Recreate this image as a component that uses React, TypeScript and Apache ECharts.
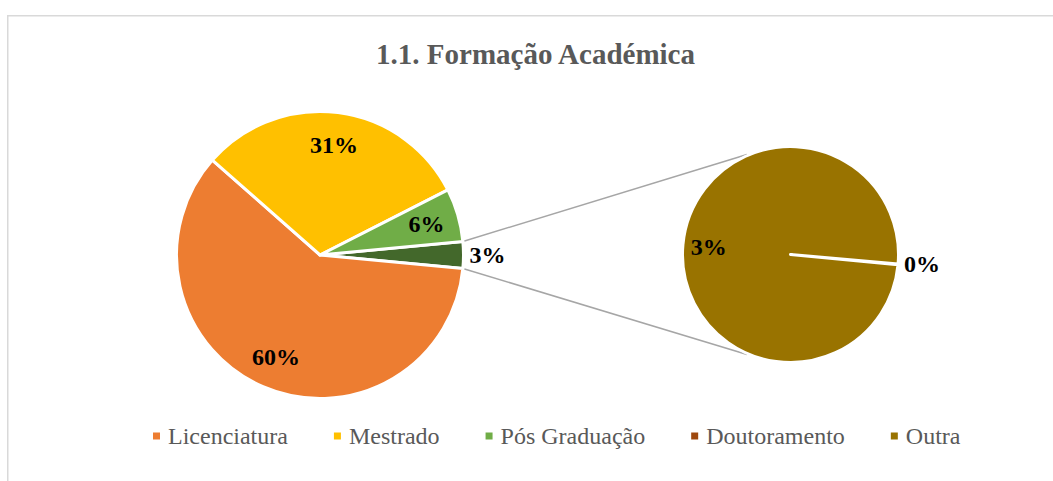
import { useEffect, useRef } from "react";
import * as echarts from "echarts";

// ---- data ----
const categories = ["Licenciatura", "Mestrado", "Pós Graduação", "Doutoramento", "Outra"];
const values = [60, 31, 6, 0, 3];
const colors = ["#ED7D31", "#FFC000", "#70AD47", "#9E480E", "#997300"];
const primaryIdx = [0, 1, 2];
const secondaryIdx = [3, 4];
const otherName = "Outros";
const otherColor = "#43682B";
const chartTitle = "1.1. Formação Académica";

// ---- layout ----
const L = { cx: 320, cy: 255, r: 143.5 };
const R = { cx: 790.5, cy: 254.5, r: 108 };
const rightStart = -5;
const connectorAngle = 113.5;
const FONT = "Liberation Serif";

const total = values.reduce((a, b) => a + b, 0);
const pct = (v: number) => Math.round((v / total) * 100) + "%";
const otherValue = secondaryIdx.reduce((s, i) => s + values[i], 0);
const leftStart = ((otherValue / total) * 360) / 2;

const labelStyle = {
  fontFamily: FONT,
  fontWeight: "bold" as const,
  fontSize: 24,
  color: "#000",
};

export default function App() {
  const ref = useRef<HTMLDivElement>(null);
  useEffect(() => {
    if (!ref.current) return;
    const chart = echarts.init(ref.current, undefined, { renderer: "svg" });
    const rad = Math.PI / 180;
    const lp = (a: number) => [L.cx + L.r * Math.cos(a * rad), L.cy - L.r * Math.sin(a * rad)];
    const rp = (a: number) => [R.cx + (R.r + 1) * Math.cos(a * rad), R.cy - (R.r + 1) * Math.sin(a * rad)];
    const lu = lp(leftStart), ll = lp(-leftStart);
    const ru = rp(connectorAngle), rl = rp(-connectorAngle);

    const leftData = [
      { name: otherName, value: otherValue, itemStyle: { color: otherColor } },
      ...primaryIdx.map((i) => ({ name: categories[i], value: values[i], itemStyle: { color: colors[i] } })),
    ];
    const rightData = secondaryIdx.map((i) => ({ name: categories[i], value: values[i], itemStyle: { color: colors[i] } }));

    chart.setOption({
      animation: false,
      backgroundColor: "#fff",
      legend: {
        data: categories,
        left: 148,
        top: 419,
        itemWidth: 7,
        itemHeight: 7,
        itemGap: 46,
        icon: "rect",
        selectedMode: false,
        itemStyle: { borderWidth: 0 },
        textStyle: { fontFamily: FONT, fontSize: 24, color: "#595959", padding: [0, 0, 0, 3] },
      },
      graphic: [
        {
          type: "rect",
          shape: { x: 7.75, y: 15.75, width: 1200, height: 600 },
          style: { fill: "none", stroke: "#d9d9d9", lineWidth: 1.5 },
          silent: true,
        },
        {
          type: "text",
          x: 535.5,
          y: 54,
          style: {
            text: chartTitle,
            fontFamily: FONT,
            fontWeight: "bold",
            fontSize: 29,
            fill: "#595959",
            textAlign: "center",
            textVerticalAlign: "middle",
          },
        },
        {
          type: "line",
          shape: { x1: lu[0], y1: lu[1], x2: ru[0], y2: ru[1] },
          style: { stroke: "#a6a6a6", lineWidth: 1.5 },
        },
        {
          type: "line",
          shape: { x1: ll[0], y1: ll[1], x2: rl[0], y2: rl[1] },
          style: { stroke: "#a6a6a6", lineWidth: 1.5 },
        },
      ],
      series: [
        {
          type: "pie",
          center: [L.cx, L.cy],
          radius: [0, L.r],
          startAngle: leftStart,
          clockwise: true,
          silent: true,
          avoidLabelOverlap: false,
          itemStyle: { borderColor: "#fff", borderWidth: 3 },
          labelLine: { show: false, length: 0, length2: 0 },
          label: { show: false },
          data: leftData.map((d, k) =>
            k === 0
              ? {
                  ...d,
                  label: {
                    show: true,
                    position: "outside",
                    distanceToLabelLine: 6,
                    formatter: pct(otherValue),
                    ...labelStyle,
                  },
                }
              : d
          ),
        },
        {
          type: "pie",
          center: [R.cx, R.cy],
          radius: [0, R.r],
          startAngle: rightStart,
          clockwise: true,
          minAngle: 0.5,
          silent: true,
          avoidLabelOverlap: false,
          itemStyle: { borderColor: "#fff", borderWidth: 3 },
          labelLine: { show: false, length: 0, length2: 0 },
          label: { show: false },
          data: rightData.map((d) =>
            d.value === 0
              ? {
                  ...d,
                  label: {
                    show: true,
                    position: "outside",
                    distanceToLabelLine: 6,
                    formatter: pct(d.value),
                    ...labelStyle,
                  },
                }
              : d
          ),
        },
        {
          type: "pie",
          center: [L.cx, L.cy],
          radius: [78, 138],
          startAngle: leftStart,
          clockwise: true,
          silent: true,
          avoidLabelOverlap: false,
          itemStyle: { color: "rgba(0,0,0,0)", borderWidth: 0 },
          labelLine: { show: false },
          label: {
            show: true,
            position: "inside",
            formatter: (p: any) => pct(p.value),
            ...labelStyle,
          },
          data: leftData.map((d, k) => ({
            name: d.name,
            value: d.value,
            label: { show: k !== 0 },
          })),
        },
        {
          type: "pie",
          center: [R.cx, R.cy],
          radius: [55, 103],
          startAngle: rightStart,
          clockwise: true,
          minAngle: 0.5,
          silent: true,
          avoidLabelOverlap: false,
          itemStyle: { color: "rgba(0,0,0,0)", borderWidth: 0 },
          labelLine: { show: false },
          label: {
            show: true,
            position: "inside",
            formatter: (p: any) => pct(p.value),
            ...labelStyle,
          },
          data: rightData.map((d) => ({
            name: d.name,
            value: d.value,
            label: { show: d.value !== 0 },
          })),
        },
      ],
    });
    return () => chart.dispose();
  }, []);
  return (
    <div style={{ position: "fixed", left: 0, top: 0, width: 1053, height: 481, background: "#fff" }}>
      <div ref={ref} style={{ width: 1053, height: 481 }} />
    </div>
  );
}
